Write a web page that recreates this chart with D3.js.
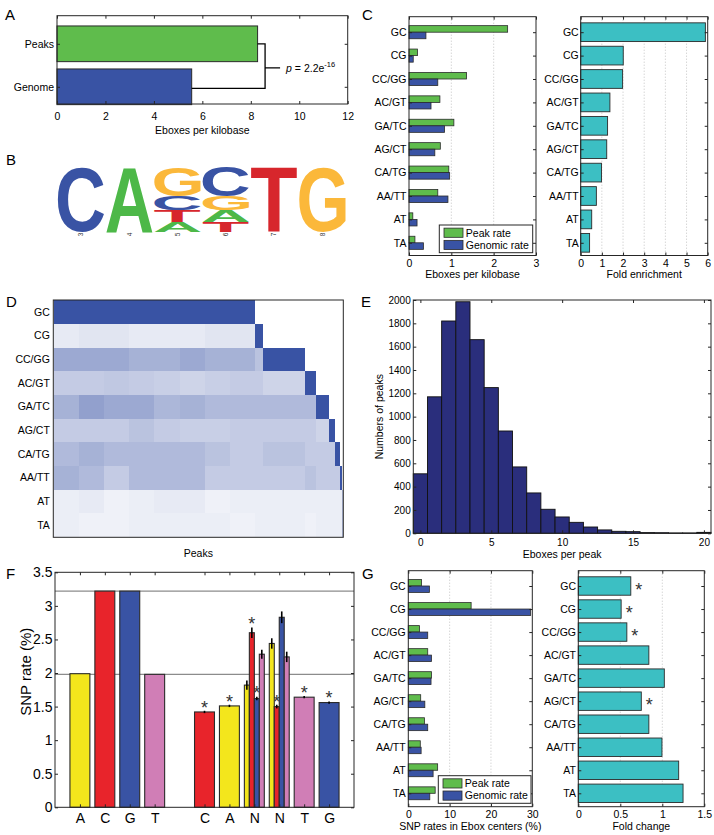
<!DOCTYPE html>
<html><head><meta charset="utf-8">
<script src="https://cdn.jsdelivr.net/npm/d3@7"></script>
<style>
body{margin:0;background:#fff;}
</style></head><body>
<svg id="fig" width="714" height="835"></svg>
<script>
// ---------------- DATA ----------------
// Panel A
const aCategories = ["Peaks", "Genome"];
const aValues = [8.28, 5.56];
const aTicks = [0, 2, 4, 6, 8, 10, 12];
const aPMantissa = "2.2e";
const aPExponent = "-16";

// Panel B (sequence logo, bits, stacked bottom -> top)
const logoPositions = ["3", "4", "5", "6", "7", "8"];
const logoStacks = [
  [["C", 2.0]],
  [["A", 2.0]],
  [["A", 0.31], ["T", 0.34], ["C", 0.45], ["G", 0.87]],
  [["T", 0.31], ["A", 0.34], ["G", 0.43], ["C", 0.92]],
  [["T", 2.0]],
  [["G", 2.0]]
];

// Panels C, D, G categories
const eboxTypes = ["GC", "CG", "CC/GG", "AC/GT", "GA/TC", "AG/CT", "CA/TG", "AA/TT", "AT", "TA"];
const legendLabels = ["Peak rate", "Genomic rate"];

// Panel C
const cPeakRate = [2.33, 0.20, 1.36, 0.73, 1.06, 0.74, 0.94, 0.68, 0.09, 0.14];
const cGenomicRate = [0.40, 0.10, 0.68, 0.52, 0.84, 0.61, 0.96, 0.92, 0.19, 0.34];
const cRateTicks = [0, 1, 2, 3];
const cFoldEnrichment = [5.89, 2.01, 1.98, 1.38, 1.27, 1.23, 0.98, 0.74, 0.52, 0.42];
const cFoldTicks = [0, 1, 2, 3, 4, 5, 6];

// Panel D (peaks grouped by first Ebox type present; GC group split in 8 equal parts)
const heatSegmentPeaks = [890, 890, 890, 890, 890, 890, 890, 887, 287, 1497, 390, 441, 215, 185, 82, 41];
const heatIntensity = [
  [1, 1, 1, 1, 1, 1, 1, 1, 0, 0, 0, 0, 0, 0, 0, 0],
  [0.12, 0.15, 0.15, 0.12, 0.12, 0.12, 0.15, 0.15, 1, 0, 0, 0, 0, 0, 0, 0],
  [0.50, 0.50, 0.50, 0.45, 0.45, 0.50, 0.45, 0.45, 0.35, 1, 0, 0, 0, 0, 0, 0],
  [0.30, 0.30, 0.32, 0.30, 0.28, 0.25, 0.28, 0.30, 0.30, 0.25, 1, 0, 0, 0, 0, 0],
  [0.45, 0.55, 0.50, 0.50, 0.42, 0.45, 0.40, 0.40, 0.40, 0.40, 0.40, 1, 0, 0, 0, 0],
  [0.30, 0.30, 0.30, 0.35, 0.30, 0.28, 0.28, 0.30, 0.30, 0.30, 0.30, 0.25, 1, 0, 0, 0],
  [0.40, 0.45, 0.40, 0.40, 0.40, 0.40, 0.35, 0.30, 0.30, 0.35, 0.30, 0.30, 0.30, 1, 0, 0],
  [0.45, 0.40, 0.30, 0.40, 0.40, 0.40, 0.30, 0.30, 0.30, 0.30, 0.35, 0.30, 0.30, 0.30, 1, 0],
  [0.10, 0.12, 0.08, 0.10, 0.12, 0.12, 0.08, 0.10, 0.10, 0.10, 0.10, 0.10, 0.10, 0.10, 0.10, 0.40],
  [0.10, 0.08, 0.08, 0.10, 0.10, 0.10, 0.10, 0.08, 0.10, 0.10, 0.08, 0.10, 0.10, 0.10, 0.10, 0.40]
];

// Panel E
const eEboxesPerPeak = [0, 1, 2, 3, 4, 5, 6, 7, 8, 9, 10, 11, 12, 13, 14, 15, 16, 17, 18, 19, 20];
const eNumPeaks = [510, 1170, 1820, 1985, 1660, 1249, 877, 569, 346, 206, 140, 94, 54, 29, 17, 14, 6, 5, 3, 3, 8];
const eXTicks = [0, 5, 10, 15, 20];
const eYTicks = [0, 200, 400, 600, 800, 1000, 1200, 1400, 1600, 1800, 2000];

// Panel F
const fGenomeBases = ["A", "C", "G", "T"];
const fGenomeRates = [1.99, 3.22, 3.22, 1.98];
const fReferenceLines = [3.22, 1.98];
const fEboxLabels = ["C", "A", "N", "N", "T", "G"];
const fEboxBases = [["C"], ["A"], ["A", "C", "G", "T"], ["A", "C", "G", "T"], ["T"], ["G"]];
const fEboxRates = [[1.42], [1.51], [1.82, 2.60, 1.62, 2.28], [2.44, 1.50, 2.83, 2.24], [1.64], [1.56]];
const fEboxErrors = [[0.01], [0.01], [0.06, 0.07, 0.02, 0.06], [0.07, 0.02, 0.08, 0.07], [0.01], [0.01]];
const fEboxStars = [[1], [1], [0, 1, 1, 0], [0, 1, 0, 0], [1], [1]];
const fYTicks = [0, 0.5, 1, 1.5, 2, 2.5, 3, 3.5];

// Panel G
const gPeakRate = [3.2, 15.2, 2.7, 4.7, 5.6, 3.0, 3.9, 2.9, 7.1, 6.5];
const gGenomicRate = [5.1, 29.6, 4.7, 5.6, 5.5, 4.0, 4.7, 3.1, 6.0, 5.2];
const gRateTicks = [0, 10, 20, 30];
const gFoldChange = [0.625, 0.51, 0.578, 0.84, 1.024, 0.75, 0.84, 0.996, 1.195, 1.247];
const gSignificant = [1, 1, 1, 0, 0, 1, 0, 0, 0, 0];
const gFoldTicks = [0, 0.5, 1, 1.5];

// ---------------- STYLE ----------------
const FF = '"Liberation Sans", Arial, Helvetica, sans-serif';
const GREEN = "#5fbc4c", BLUE = "#3953a4", TEAL = "#3cbfc3", NAVY = "#2a2e7c";
const EDGE = "#2b2b2b";
const baseColors = { A: "#f3e61c", C: "#e8242b", G: "#3953a4", T: "#d07eb6" };
const logoColors = { A: "#4db848", C: "#3953a4", G: "#fbb83a", T: "#d7262c" };

const svg = d3.select("#fig");
svg.append("rect").attr("width", 714).attr("height", 835).attr("fill", "#fff");

function txt(g, x, y, s, o = {}) {
  const t = g.append("text").attr("x", x).attr("y", y).text(s)
    .attr("font-size", o.fs || 10.5).attr("font-family", FF).attr("fill", o.fill || "#000")
    .attr("text-anchor", o.anchor || "start");
  if (o.rotate) t.attr("transform", `rotate(${o.rotate},${x},${y})`);
  if (o.weight) t.attr("font-weight", o.weight);
  return t;
}
function panelLetter(x, y, s) { txt(svg, x, y, s, { fs: 15 }); }
function star(g, x, yc, fs = 17, fill = "#333") {
  g.append("text").attr("x", x).attr("y", yc + 0.57 * fs).attr("text-anchor", "middle")
    .attr("font-size", fs).attr("font-family", FF).attr("fill", fill).text("*");
}
function styleAxis(sel, fs) {
  sel.attr("font-size", fs).attr("font-family", FF).attr("color", "#262626");
  sel.select(".domain").remove();
  sel.selectAll("text").attr("fill", "#000");
}
function drawAxes(g, o) {
  const [L, T, R, B] = o.box, ts = 3, fs = o.fs || 10.5;
  if (o.x) {
    g.append("g").attr("transform", `translate(0,${B})`)
      .call(d3.axisBottom(o.x).tickValues(o.xTicks).tickFormat(o.xFmt || (d => String(d)))
        .tickSize(-ts).tickSizeOuter(0).tickPadding(o.xPad ?? 5))
      .call(s => styleAxis(s, fs));
    g.append("g").attr("transform", `translate(0,${T})`)
      .call(d3.axisTop(o.x).tickValues(o.xTicks).tickFormat("").tickSize(-ts).tickSizeOuter(0))
      .call(s => styleAxis(s, fs));
  }
  if (o.y) {
    g.append("g").attr("transform", `translate(${L},0)`)
      .call(d3.axisLeft(o.y).tickValues(o.yTicks).tickFormat(o.yFmt || (d => String(d)))
        .tickSize(-ts).tickSizeOuter(0).tickPadding(o.yPad ?? 3))
      .call(s => styleAxis(s, o.yFs || fs));
    g.append("g").attr("transform", `translate(${R},0)`)
      .call(d3.axisRight(o.y).tickValues(o.yTicks).tickFormat("").tickSize(-ts).tickSizeOuter(0))
      .call(s => styleAxis(s, fs));
  }
  g.append("rect").attr("x", L).attr("y", T).attr("width", R - L).attr("height", B - T)
    .attr("fill", "none").attr("stroke", "#262626").attr("stroke-width", 1);
}
function vGrid(g, x, vals, T, B) {
  g.selectAll(null).data(vals).join("line")
    .attr("x1", d => x(d)).attr("x2", d => x(d)).attr("y1", T).attr("y2", B)
    .attr("stroke", "#b5b5b5").attr("stroke-width", 0.8).attr("stroke-dasharray", "1,2");
}
function legend(g, L, T, R, B) {
  g.append("rect").attr("x", L).attr("y", T).attr("width", R - L).attr("height", B - T)
    .attr("fill", "#fff").attr("stroke", "#262626").attr("stroke-width", 1);
  const rowH = (B - T) / 2;
  legendLabels.forEach((lab, i) => {
    const yc = T + rowH * (i + 0.5) + (i === 0 ? 0.8 : -0.8);
    g.append("rect").attr("x", L + 4.7).attr("y", yc - 4.6).attr("width", 19).attr("height", 9.2)
      .attr("fill", i === 0 ? GREEN : BLUE).attr("stroke", EDGE).attr("stroke-width", 0.8);
    txt(g, L + 26.5, yc + 3.8, lab, { fs: 10.5 });
  });
}
function groupedBars(g, x, y, peak, gen, thick) {
  eboxTypes.forEach((c, i) => {
    g.append("rect").attr("x", x(0)).attr("y", y(i) - thick).attr("width", x(peak[i]) - x(0)).attr("height", thick)
      .attr("fill", GREEN).attr("stroke", EDGE).attr("stroke-width", 0.8);
    g.append("rect").attr("x", x(0)).attr("y", y(i)).attr("width", x(gen[i]) - x(0)).attr("height", thick)
      .attr("fill", BLUE).attr("stroke", EDGE).attr("stroke-width", 0.8);
  });
}

// ---------------- PANEL A ----------------
{
  const g = svg.append("g");
  const box = [57, 15.7, 347.7, 104];
  const x = d3.scaleLinear().domain([0, 12]).range([57, 347.7]);
  const y = d3.scaleLinear().domain([0, 1]).range([43.8, 86.8]);
  const bh = 0.83 * (y(1) - y(0));
  aValues.forEach((v, i) => {
    g.append("rect").attr("x", x(0)).attr("y", y(i) - bh / 2).attr("width", x(v) - x(0)).attr("height", bh)
      .attr("fill", i === 0 ? GREEN : BLUE).attr("stroke", EDGE).attr("stroke-width", 1);
  });
  drawAxes(g, { box, x, xTicks: aTicks, xPad: 9, y, yTicks: [0, 1], yFmt: i => aCategories[i], yPad: 3 });
  const xb = x(d3.max(aValues)) + 7.5;
  const ym = y(0.56);
  g.append("path").attr("d", `M${x(aValues[0])},${y(0)}H${xb}V${y(1) + 1.5}H${x(aValues[1])}M${xb},${ym}H${xb + 15}`)
    .attr("fill", "none").attr("stroke", "#000").attr("stroke-width", 1.3);
  const t = g.append("text").attr("x", xb + 21).attr("y", ym + 3.8).attr("font-family", FF).attr("font-size", 10.5);
  t.append("tspan").attr("font-style", "italic").text("p");
  t.append("tspan").text(" = " + aPMantissa);
  t.append("tspan").attr("dy", -4.5).attr("font-size", 7.5).text(aPExponent);
  txt(g, (box[0] + box[2]) / 2, 134, "Eboxes per kilobase", { anchor: "middle" });
  panelLetter(5, 20, "A");
}

// ---------------- PANEL B ----------------
{
  const g = svg.append("g");
  const xL = d3.scalePoint().domain(logoPositions).range([81, 322.5]);
  const yL = d3.scaleLinear().domain([0, 2]).range([231.7, 166.7]);
  const ctx = document.createElement("canvas").getContext("2d");
  ctx.font = `bold 100px ${FF}`;
  const w = 46.5;
  logoStacks.forEach((stack, i) => {
    let cum = 0;
    stack.forEach(([ch, h]) => {
      const m = ctx.measureText(ch);
      const l = m.actualBoundingBoxLeft, r = m.actualBoundingBoxRight;
      const a = m.actualBoundingBoxAscent, d = m.actualBoundingBoxDescent;
      const x0 = xL(logoPositions[i]) - w / 2;
      const y0 = yL(cum + h), hh = yL(cum) - y0;
      const sx = w / (l + r), sy = hh / (a + d);
      g.append("text").text(ch).attr("x", 0).attr("y", 0).attr("font-size", 100).attr("font-weight", "bold")
        .attr("font-family", FF).attr("fill", logoColors[ch])
        .attr("transform", `translate(${x0 + l * sx},${y0 + a * sy}) scale(${sx},${sy})`);
      cum += h;
    });
    const px = xL(logoPositions[i]);
    g.append("text").attr("x", px).attr("y", 232.5).attr("font-size", 6.5).attr("font-family", FF)
      .attr("text-anchor", "end").attr("dy", "0.35em").attr("fill", "#333")
      .attr("transform", `rotate(-90,${px},232.5)`).text(logoPositions[i]);
  });
  panelLetter(6, 165, "B");
}

// ---------------- PANEL C ----------------
{
  const g = svg.append("g");
  const T = 16.7, B = 255.5;
  const y = d3.scaleLinear().domain([0, 9]).range([32.2, 242.8]);
  const step = y(1) - y(0);
  // left
  const x1 = d3.scaleLinear().domain([0, 3]).range([409, 536]);
  vGrid(g, x1, [1, 2], T, B);
  groupedBars(g, x1, y, cPeakRate, cGenomicRate, 0.28 * step);
  drawAxes(g, { box: [409, T, 536, B], x: x1, xTicks: cRateTicks, xPad: 4.5, y, yTicks: d3.range(10), yFmt: i => eboxTypes[i], yPad: 2.5 });
  legend(g, 439.3, 225, 532.7, 252.7);
  txt(g, (409 + 536) / 2, 278, "Eboxes per kilobase", { anchor: "middle" });
  // right
  const x2 = d3.scaleLinear().domain([0, 6]).range([580.7, 707.7]);
  vGrid(g, x2, [1, 2, 3, 4, 5], T, B);
  const bh = 0.8 * step;
  cFoldEnrichment.forEach((v, i) => {
    g.append("rect").attr("x", x2(0)).attr("y", y(i) - bh / 2).attr("width", x2(v) - x2(0)).attr("height", bh)
      .attr("fill", TEAL).attr("stroke", EDGE).attr("stroke-width", 0.9);
  });
  drawAxes(g, { box: [580.7, T, 707.7, B], x: x2, xTicks: cFoldTicks, xPad: 4.5, y, yTicks: d3.range(10), yFmt: i => eboxTypes[i], yPad: 2 });
  txt(g, (580.7 + 707.7) / 2, 278, "Fold enrichment", { anchor: "middle" });
  panelLetter(362, 20, "C");
}

// ---------------- PANEL D ----------------
{
  const g = svg.append("g");
  const L = 53.3, T = 300, R = 343.3, B = 537.3;
  const x = d3.scaleLinear().domain([0, d3.sum(heatSegmentPeaks)]).range([54, 343.3]);
  const y = d3.scaleBand().domain(eboxTypes).range([300.3, 537]);
  const color = d3.interpolateRgb("#ffffff", BLUE);
  const starts = heatSegmentPeaks.map((n, i) => d3.sum(heatSegmentPeaks.slice(0, i)));
  eboxTypes.forEach((row, r) => {
    heatIntensity[r].forEach((v, c) => {
      if (v <= 0) return;
      g.append("rect").attr("x", x(starts[c])).attr("y", y(row))
        .attr("width", x(starts[c] + heatSegmentPeaks[c]) - x(starts[c])).attr("height", y.bandwidth())
        .attr("fill", color(v)).attr("shape-rendering", "crispEdges");
    });
  });
  g.append("g").attr("transform", `translate(${L},0)`)
    .call(d3.axisLeft(y).tickSize(0).tickPadding(3.5))
    .call(s => styleAxis(s, 10.5));
  g.append("rect").attr("x", L).attr("y", T).attr("width", R - L).attr("height", B - T)
    .attr("fill", "none").attr("stroke", "#262626").attr("stroke-width", 1);
  txt(g, (L + R) / 2, 556.5, "Peaks", { anchor: "middle" });
  panelLetter(6, 307, "D");
}

// ---------------- PANEL E ----------------
{
  const g = svg.append("g");
  const L = 413.3, T = 300, R = 711, B = 533.3;
  const x = d3.scaleLinear().domain([-0.5, 20.5]).range([L, R]);
  const y = d3.scaleLinear().domain([0, 2000]).range([B, T]);
  eEboxesPerPeak.forEach((k, i) => {
    g.append("rect").attr("x", x(k - 0.5)).attr("y", y(eNumPeaks[i])).attr("width", x(k + 0.5) - x(k - 0.5))
      .attr("height", y(0) - y(eNumPeaks[i])).attr("fill", NAVY).attr("stroke", "#111").attr("stroke-width", 0.9);
  });
  drawAxes(g, { box: [L, T, R, B], x, xTicks: eXTicks, xPad: 6, y, yTicks: eYTicks, yPad: 2.6, fs: 10 });
  txt(g, (L + R) / 2, 557.5, "Eboxes per peak", { anchor: "middle" });
  txt(g, 383, 416.7, "Numbers of peaks", { anchor: "middle", rotate: -90 });
  panelLetter(361, 307, "E");
}

// ---------------- PANEL F ----------------
{
  const g = svg.append("g");
  const L = 55, T = 572.3, R = 354, B = 807.3;
  const x = d3.scaleLinear().domain([0, 12]).range([L, R]);
  const y = d3.scaleLinear().domain([0, 3.5]).range([B, T]);
  const genomePos = fGenomeBases.map((b, i) => i + 1);
  const eboxPos = fEboxLabels.map((b, i) => fGenomeBases.length + 2 + i);
  // reference lines (genomic averages)
  fReferenceLines.forEach(v => g.append("line").attr("x1", L).attr("x2", R).attr("y1", y(v)).attr("y2", y(v))
    .attr("stroke", "#8c8c8c").attr("stroke-width", 1.2));
  // stars first (bars drawn over them)
  fEboxBases.forEach((bases, i) => {
    const sw = 0.8 / bases.length;
    bases.forEach((b, j) => {
      if (!fEboxStars[i][j]) return;
      const xc = x(eboxPos[i] - 0.4 + sw * (j + 0.5));
      star(g, xc, y(fEboxRates[i][j] + fEboxErrors[i][j]) - 8, 18, "#333");
    });
  });
  // genome bars
  fGenomeBases.forEach((b, i) => {
    g.append("rect").attr("x", x(genomePos[i] - 0.4)).attr("y", y(fGenomeRates[i])).attr("width", x(0.8) - x(0))
      .attr("height", y(0) - y(fGenomeRates[i])).attr("fill", baseColors[b]).attr("stroke", EDGE).attr("stroke-width", 1.1);
  });
  // ebox bars
  fEboxBases.forEach((bases, i) => {
    const sw = 0.8 / bases.length;
    bases.forEach((b, j) => {
      const v = fEboxRates[i][j];
      g.append("rect").attr("x", x(eboxPos[i] - 0.4 + sw * j)).attr("y", y(v)).attr("width", x(sw) - x(0))
        .attr("height", y(0) - y(v)).attr("fill", baseColors[b]).attr("stroke", EDGE).attr("stroke-width", 1.1);
    });
  });
  // error bars
  fEboxBases.forEach((bases, i) => {
    const sw = 0.8 / bases.length;
    bases.forEach((b, j) => {
      const v = fEboxRates[i][j], e = fEboxErrors[i][j];
      const xc = x(eboxPos[i] - 0.4 + sw * (j + 0.5));
      g.append("line").attr("x1", xc).attr("x2", xc).attr("y1", y(v - e) + 0.5).attr("y2", y(v + e) - 0.5)
        .attr("stroke", "#000").attr("stroke-width", 1.6);
    });
  });
  const allPos = genomePos.concat(eboxPos);
  const allLabels = fGenomeBases.concat(fEboxLabels);
  drawAxes(g, { box: [L, T, R, B], x, xTicks: allPos, xFmt: p => allLabels[allPos.indexOf(p)], xPad: 6,
    y, yTicks: fYTicks, yPad: 2.5, fs: 14 });
  txt(g, 31.5, 671.7, "SNP rate (%)", { anchor: "middle", rotate: -90, fs: 15 });
  panelLetter(6, 579, "F");
}

// ---------------- PANEL G ----------------
{
  const g = svg.append("g");
  const T = 570.7, B = 806.7;
  const y = d3.scaleLinear().domain([0, 9]).range([586, 793.3]);
  const step = y(1) - y(0);
  const x1 = d3.scaleLinear().domain([0, 30]).range([408.3, 532.3]);
  vGrid(g, x1, [10, 20], T, B);
  groupedBars(g, x1, y, gPeakRate, gGenomicRate, 0.28 * step);
  drawAxes(g, { box: [408.3, T, 532.3, B], x: x1, xTicks: gRateTicks, xPad: 4.2, y, yTicks: d3.range(10), yFmt: i => eboxTypes[i], yPad: 2.6 });
  legend(g, 438.3, 775.7, 531, 803.3);
  txt(g, (408.3 + 532.3) / 2, 830, "SNP rates in Ebox centers (%)", { anchor: "middle" });

  const x2 = d3.scaleLinear().domain([0, 1.5]).range([578.3, 704.3]);
  vGrid(g, x2, [0.5, 1], T, B);
  const bh = 0.8 * step;
  gFoldChange.forEach((v, i) => {
    g.append("rect").attr("x", x2(0)).attr("y", y(i) - bh / 2).attr("width", x2(v) - x2(0)).attr("height", bh)
      .attr("fill", TEAL).attr("stroke", EDGE).attr("stroke-width", 0.9);
    if (gSignificant[i]) star(g, x2(v) + 8, y(i), 18, "#333");
  });
  drawAxes(g, { box: [578.3, T, 704.3, B], x: x2, xTicks: gFoldTicks, xPad: 4.2, y, yTicks: d3.range(10), yFmt: i => eboxTypes[i], yPad: 2.3 });
  txt(g, (578.3 + 704.3) / 2, 830, "Fold change", { anchor: "middle" });
  panelLetter(362, 579, "G");
}
</script>
</body></html>
